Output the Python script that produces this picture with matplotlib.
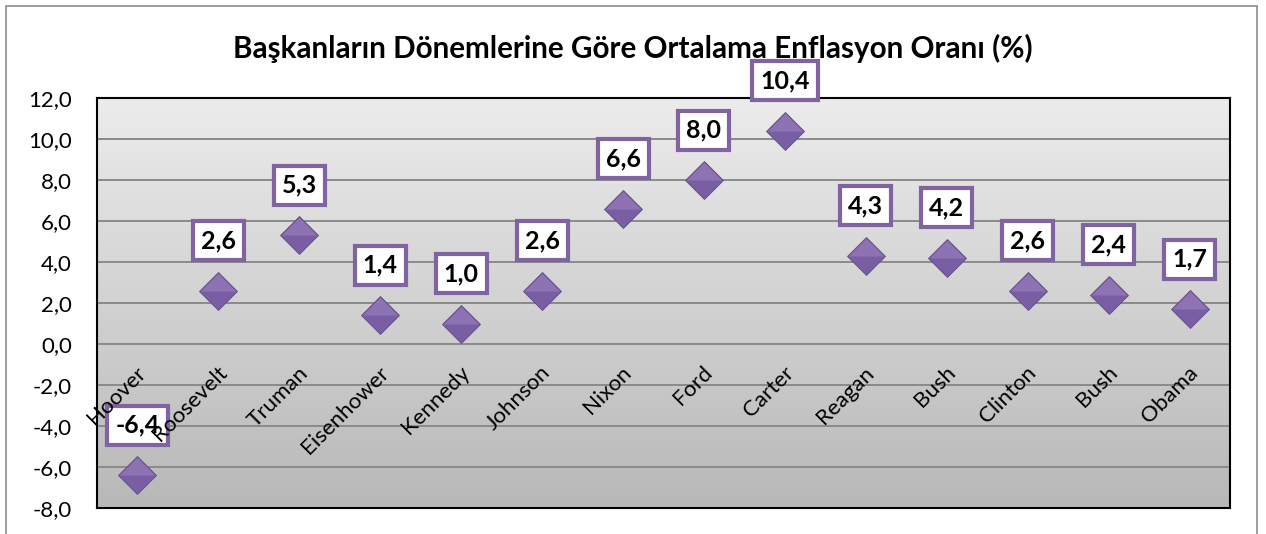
import matplotlib.pyplot as plt
import matplotlib.patches as mpatches
import numpy as np

presidents = ["Hoover", "Roosevelt", "Truman", "Eisenhower", "Kennedy", "Johnson",
              "Nixon", "Ford", "Carter", "Reagan", "Bush", "Clinton", "Bush", "Obama"]
inflation = [-6.4, 2.6, 5.3, 1.4, 1.0, 2.6, 6.6, 8.0, 10.4, 4.3, 4.2, 2.6, 2.4, 1.7]
yticks = np.arange(-8, 13, 2)

purple = "#8064a2"
plt.rcParams["font.family"] = ["Lato", "DejaVu Sans"]

fig = plt.figure(figsize=(12.66, 5.34), dpi=100)
ax = fig.add_axes([97 / 1266, 1 - 508 / 534, (1230 - 97) / 1266, (508 - 98) / 534])

# outer chart border
fig.patches.append(mpatches.Rectangle((6 / 1266, -0.01), 1251 / 1266, 1 - 6 / 534 + 0.01,
                                      transform=fig.transFigure, fill=False,
                                      edgecolor="#8c8c8c", lw=1.2))

# gradient plot area
x = np.arange(len(presidents))
ax.set_xlim(-0.5, len(presidents) - 0.5)
ax.set_ylim(-8, 12)
grad = np.linspace(0, 1, 256).reshape(-1, 1)
ax.imshow(grad, extent=(-0.5, len(presidents) - 0.5, -8, 12), aspect="auto",
          cmap=plt.matplotlib.colors.LinearSegmentedColormap.from_list("g", ["#ececec", "#b8b8b8"]),
          origin="upper", zorder=0)

for yv in yticks:
    ax.axhline(yv, color="#8a8a8a", lw=1.4, zorder=1)

ax.plot(x, inflation, "D", color="#7a5ea3", markersize=19, markeredgecolor="#634b88",
        markeredgewidth=0.6, zorder=3)
# lighter top half of the diamonds
top_half = [(-1, 0), (0, 1), (1, 0), (-1, 0)]
ax.plot(x, inflation, marker=top_half, linestyle="none", color="#8d73b3",
        markersize=19 * 1.414 - 1.5, markeredgewidth=0, zorder=3.5)

for xi, v in zip(x, inflation):
    ax.annotate(f"{v:.1f}".replace(".", ","), (xi, v), xytext=(0, 36), textcoords="offset points",
                ha="center", va="center", fontsize=18, fontweight="bold", zorder=5,
                bbox=dict(boxstyle="square,pad=0.32", fc="white", ec=purple, lw=3))

# category labels sit on the zero line
ax.set_xticks([])
for xi, name in zip(x, presidents):
    ax.text(xi - 0.02, -0.9, name, rotation=45, rotation_mode="anchor", ha="right", va="top",
            fontsize=16, zorder=6)

ax.set_yticks(yticks)
ax.set_yticklabels([f"{v:.1f}".replace(".", ",") for v in yticks], fontsize=16)
ax.tick_params(axis="y", length=0, pad=18)
for s in ax.spines.values():
    s.set_linewidth(1.5)
    s.set_color("black")

fig.text(0.5, 1 - 48 / 534, "Başkanların Dönemlerine Göre Ortalama Enflasyon Oranı (%)",
         ha="center", va="center", fontsize=21.3, fontweight="bold")

fig.savefig("out.png", dpi=100)
